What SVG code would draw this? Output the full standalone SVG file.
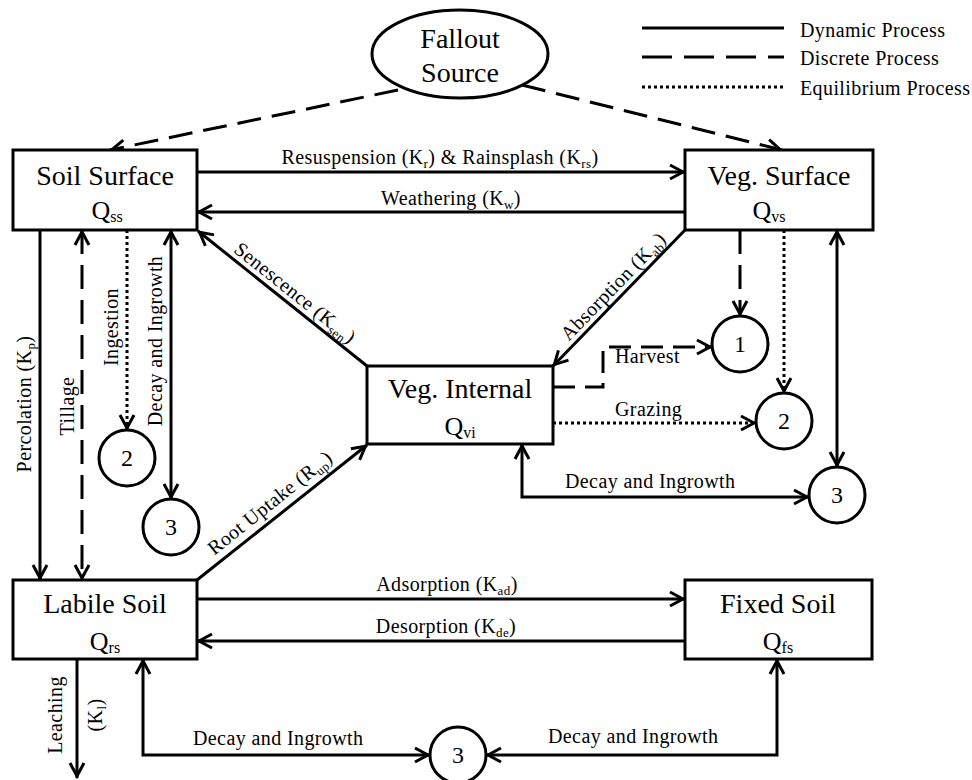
<svg xmlns="http://www.w3.org/2000/svg" width="972" height="780" viewBox="0 0 972 780">
<style>
text { font-family: "Liberation Serif", "Times New Roman", serif; fill: #000; }
.ttl { font-size: 28px; text-anchor: middle; }
.q { font-size: 26px; text-anchor: middle; }
.sub { font-size: 16px; }
.lbl { font-size: 20px; letter-spacing: 0.4px; }
.lsub { font-size: 13px; }
.num { font-size: 24px; text-anchor: middle; }
.box { fill: #fff; stroke: #000; stroke-width: 3; }
.ln { fill: none; stroke: #000; stroke-width: 3; }
.dash { stroke-dasharray: 24 11; }
.dot { stroke-dasharray: 3 3; }
.arr { marker-end: url(#ah); }
.arr2 { marker-start: url(#ah); marker-end: url(#ah); }
</style>
<defs>
<marker id="ah" viewBox="-3 -3 22 20" refX="15" refY="7" markerWidth="22" markerHeight="20" markerUnits="userSpaceOnUse" orient="auto-start-reverse">
<path d="M0,0 L13,7 L0,14" fill="none" stroke="#000" stroke-width="3" stroke-dasharray="none"/>
</marker>
</defs>
<rect width="972" height="780" fill="#fff"/>

<g id="legend">
<line class="ln" x1="642" y1="28" x2="784" y2="28"/>
<line class="ln" x1="642" y1="57" x2="784" y2="57" stroke-dasharray="30 12"/>
<line class="ln" x1="642" y1="87" x2="784" y2="87" stroke-width="2.5" stroke-dasharray="3 3"/>
<text class="lbl" x="800" y="37">Dynamic Process</text>
<text class="lbl" x="800" y="65">Discrete Process</text>
<text class="lbl" x="800" y="95">Equilibrium Process</text>
</g>

<g id="connectors">
<line class="ln dash arr" x1="398" y1="90" x2="110" y2="150"/>
<line class="ln dash arr" x1="522" y1="85" x2="782" y2="150"/>
<line class="ln arr" x1="197" y1="172" x2="685" y2="172"/>
<line class="ln arr" x1="685" y1="212" x2="197" y2="212"/>
<line class="ln arr" x1="40" y1="230" x2="40" y2="580"/>
<line class="ln dash arr2" x1="82" y1="230" x2="82" y2="580"/>
<line class="ln dot arr" x1="127" y1="230" x2="127" y2="430"/>
<line class="ln arr2" x1="171" y1="230" x2="171" y2="499"/>
<line class="ln arr" x1="367" y1="366" x2="198" y2="231"/>
<line class="ln arr" x1="685" y1="230" x2="553" y2="366"/>
<line class="ln arr" x1="197" y1="580" x2="367" y2="445"/>
<polyline class="ln arr" points="553,387 603,387 603,347 712,347" stroke-dasharray="22 10"/>
<line class="ln dash arr" x1="740" y1="230" x2="740" y2="316"/>
<line class="ln dot arr" x1="784" y1="230" x2="784" y2="393"/>
<line class="ln dot arr" x1="553" y1="423" x2="756" y2="423"/>
<line class="ln arr2" x1="837" y1="230" x2="837" y2="467"/>
<polyline class="ln arr2" points="522,444 522,497 809,497"/>
<line class="ln arr" x1="197" y1="599" x2="685" y2="599"/>
<line class="ln arr" x1="685" y1="641" x2="197" y2="641"/>
<line class="ln arr" x1="77" y1="659" x2="77" y2="778"/>
<polyline class="ln arr2" points="143,659 143,755 430,755"/>
<polyline class="ln arr2" points="777,659 777,755 486,755"/>

<text class="lbl" x="440" y="164" text-anchor="middle">Resuspension (K<tspan class="lsub" dy="4">r</tspan><tspan dy="-4">) &amp; Rainsplash (K</tspan><tspan class="lsub" dy="4">rs</tspan><tspan dy="-4">)</tspan></text>
<text class="lbl" x="451" y="205" text-anchor="middle">Weathering (K<tspan class="lsub" dy="4">w</tspan><tspan dy="-4">)</tspan></text>
<text class="lbl" transform="translate(31,404) rotate(-90)" text-anchor="middle">Percolation (K<tspan class="lsub" dy="4">p</tspan><tspan dy="-4">)</tspan></text>
<text class="lbl" transform="translate(74,406) rotate(-90)" text-anchor="middle">Tillage</text>
<text class="lbl" transform="translate(118,327) rotate(-90)" text-anchor="middle">Ingestion</text>
<text class="lbl" transform="translate(162,341) rotate(-90)" text-anchor="middle">Decay and Ingrowth</text>
<text class="lbl" transform="translate(291,298) rotate(38.66)" text-anchor="middle">Senescence (K<tspan class="lsub" dy="4">sen</tspan><tspan dy="-4">)</tspan></text>
<text class="lbl" transform="translate(618,291) rotate(-45.85)" text-anchor="middle">Absorption (K<tspan class="lsub" dy="4">ab</tspan><tspan dy="-4">)</tspan></text>
<text class="lbl" transform="translate(274,508) rotate(-38.66)" text-anchor="middle">Root Uptake (R<tspan class="lsub" dy="4">up</tspan><tspan dy="-4">)</tspan></text>
<text class="lbl" x="615" y="363">Harvest</text>
<text class="lbl" x="615" y="416">Grazing</text>
<text class="lbl" x="565" y="488">Decay and Ingrowth</text>
<text class="lbl" x="447" y="591" text-anchor="middle">Adsorption (K<tspan class="lsub" dy="4">ad</tspan><tspan dy="-4">)</tspan></text>
<text class="lbl" x="446" y="633" text-anchor="middle">Desorption (K<tspan class="lsub" dy="4">de</tspan><tspan dy="-4">)</tspan></text>
<text class="lbl" transform="translate(62,715) rotate(-90)" text-anchor="middle">Leaching</text>
<text class="lbl" transform="translate(102,715) rotate(-90)" text-anchor="middle">(K<tspan class="lsub" dy="4">l</tspan><tspan dy="-4">)</tspan></text>
<text class="lbl" x="193" y="745">Decay and Ingrowth</text>
<text class="lbl" x="548" y="743">Decay and Ingrowth</text>
</g>

<g id="fallout">
<ellipse cx="460" cy="54" rx="88" ry="44" fill="#fff" stroke="#000" stroke-width="3"/>
<text class="ttl" x="460" y="48" font-size="27">Fallout</text>
<text class="ttl" x="460" y="82" font-size="27">Source</text>
</g>

<g id="soil-surface">
<rect class="box" x="13" y="150" width="184" height="80"/>
<text class="ttl" x="105" y="185">Soil Surface</text>
<text class="q" x="107" y="219">Q<tspan class="sub" dy="3">ss</tspan></text>
</g>

<g id="veg-surface">
<rect class="box" x="685" y="150" width="188" height="80"/>
<text class="ttl" x="779" y="185">Veg. Surface</text>
<text class="q" x="769" y="219">Q<tspan class="sub" dy="3">vs</tspan></text>
</g>

<g id="veg-internal">
<rect class="box" x="367" y="366" width="186" height="78"/>
<text class="ttl" x="460" y="398">Veg. Internal</text>
<text class="q" x="460" y="435">Q<tspan class="sub" font-size="19" dy="3">vi</tspan></text>
</g>

<g id="labile-soil">
<rect class="box" x="13" y="580" width="184" height="79"/>
<text class="ttl" x="105" y="613">Labile Soil</text>
<text class="q" x="105" y="650">Q<tspan class="sub" font-size="18" dy="3">rs</tspan></text>
</g>

<g id="fixed-soil">
<rect class="box" x="685" y="580" width="187" height="79"/>
<text class="ttl" x="778" y="613">Fixed Soil</text>
<text class="q" x="778" y="650">Q<tspan class="sub" font-size="18" dy="3">fs</tspan></text>
</g>

<g id="c1"><circle cx="740" cy="344" r="28" fill="#fff" stroke="#000" stroke-width="3"/><text class="num" x="740" y="352">1</text></g>
<g id="c2-left"><circle cx="127" cy="458" r="28" fill="#fff" stroke="#000" stroke-width="3"/><text class="num" x="127" y="466">2</text></g>
<g id="c2-right"><circle cx="784" cy="421" r="28" fill="#fff" stroke="#000" stroke-width="3"/><text class="num" x="784" y="429">2</text></g>
<g id="c3-left"><circle cx="171" cy="527" r="28" fill="#fff" stroke="#000" stroke-width="3"/><text class="num" x="171" y="535">3</text></g>
<g id="c3-right"><circle cx="837" cy="495" r="28" fill="#fff" stroke="#000" stroke-width="3"/><text class="num" x="837" y="503">3</text></g>
<g id="c3-bottom"><circle cx="458" cy="755" r="28" fill="#fff" stroke="#000" stroke-width="3"/><text class="num" x="458" y="763">3</text></g>
</svg>
